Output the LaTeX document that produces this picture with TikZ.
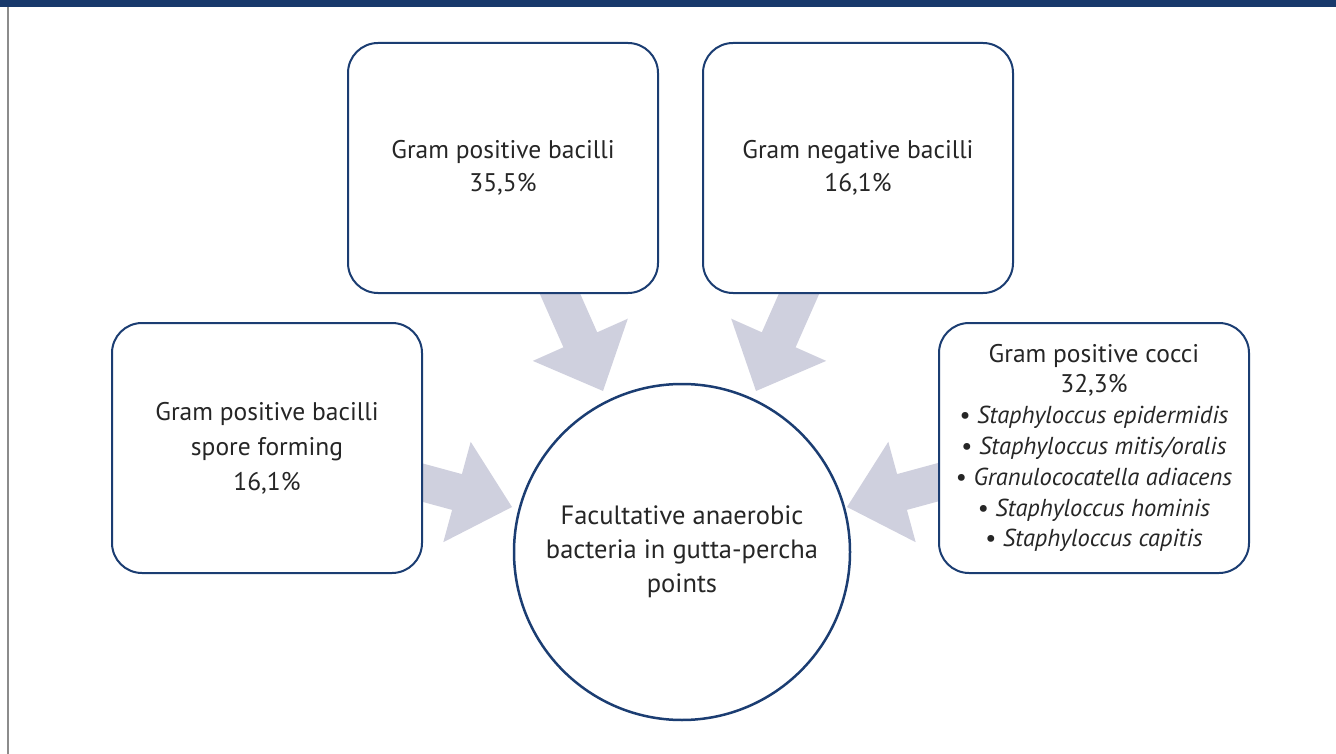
\documentclass[tikz,border=0pt]{standalone}
\usepackage{fontspec}
\setmainfont{PT Sans}
\definecolor{boxblue}{RGB}{27,61,114}
\definecolor{bandblue}{RGB}{24,57,107}
\definecolor{arrowfill}{RGB}{207,208,222}
\begin{document}
\begin{tikzpicture}[x=1pt,y=-1pt,
  catbox/.style={draw=boxblue, line width=2pt, fill=white, rounded corners=30pt,
    minimum width=310pt, minimum height=250pt, anchor=north west, align=center,
    font=\fontsize{25.5}{33}\selectfont, text=black!85},
  hub/.style={draw=boxblue, line width=2.5pt, fill=white, circle, minimum size=336pt,
    align=center, font=\fontsize{26.5}{34}\selectfont, text=black!85},
  blockarrow/.style={fill=arrowfill, draw=none}]
\useasboundingbox (0,0) rectangle (1336,754);
\fill[bandblue] (0,0) rectangle (1336,7.5);
\draw[gray!90, line width=2pt] (8,7.5) -- (8,754);
% block arrows (drawn beneath boxes)
\fill[blockarrow] (536.1,285.5) -- (569.9,270.5) -- (597.2,332.3) -- (627.8,318.7) -- (603,391) -- (532.8,360.9) -- (563.4,347.3) -- cycle;
\fill[blockarrow] (822.9,285.5) -- (789.1,270.5) -- (761.8,332.3) -- (731.2,318.7) -- (756,391) -- (826.2,360.9) -- (795.6,347.3) -- cycle;
\fill[blockarrow] (413.7,461.0) -- (461.9,474.1) -- (470.7,441.8) -- (512,507) -- (443.3,542.2) -- (452.1,509.9) -- (403.9,496.8) -- cycle;
\fill[blockarrow] (945.3,461.0) -- (897.1,474.1) -- (888.3,441.8) -- (847,507) -- (915.7,542.2) -- (906.9,509.9) -- (955.1,496.8) -- cycle;
% boxes
\node[catbox] (gpb) at (347,42) {Gram positive bacilli\\35,5\%};
\node[catbox] (gnb) at (702,42) {Gram negative bacilli\\16,1\%};
\node[catbox, font=\fontsize{25.5}{35}\selectfont] (gps) at (111,322) {Gram positive bacilli\\spore forming\\16,1\%};
\node[catbox, font=\fontsize{24.5}{30.8}\selectfont] (gpc) at (938,322) {{\fontsize{25.5}{30.8}\selectfont Gram positive cocci}\\{\fontsize{25.5}{30.8}\selectfont 32,3\%}\\
  • \textit{Staphyloccus epidermidis}\\
  • \textit{Staphyloccus mitis/oralis}\\
  • \textit{Granulococatella adiacens}\\
  • \textit{Staphyloccus hominis}\\
  • \textit{Staphyloccus capitis}};
\node[hub] (fab) at (682,552) {Facultative anaerobic\\bacteria in gutta-percha\\points};
\end{tikzpicture}
\end{document}
